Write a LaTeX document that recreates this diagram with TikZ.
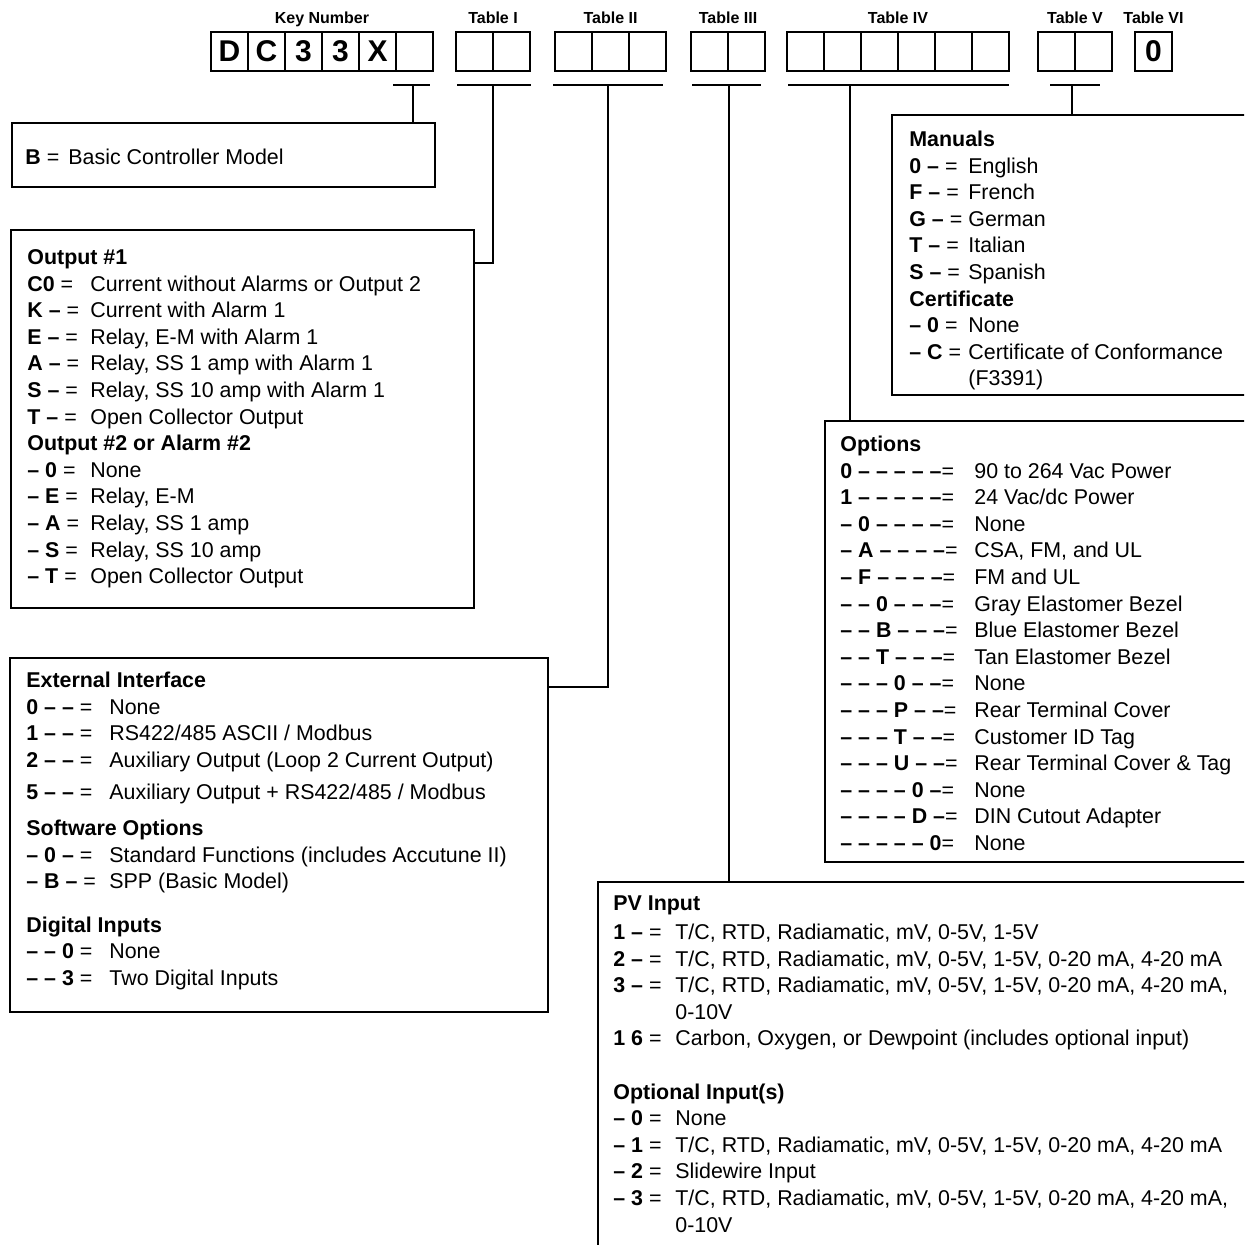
\documentclass[tikz,border=0pt]{standalone}
\usepackage{fontspec}
\setmainfont{Liberation Sans}
\usetikzlibrary{positioning,fit}

\newcommand{\hd}[1]{\multicolumn{2}{@{}l@{}}{\textbf{#1}}}

\begin{document}
\begin{tikzpicture}[
  x=0.5pt, y=-0.5pt,
  font=\fontsize{10.7pt}{13.3pt}\selectfont,
  cell/.style={draw, line width=1pt, minimum width=18.5pt, minimum height=19.5pt, inner sep=0pt, outer sep=0pt, font=\fontsize{15pt}{15pt}\selectfont\bfseries},
  grplabel/.style={anchor=base, inner sep=0pt, font=\fontsize{8pt}{9pt}\selectfont\bfseries},
  panel/.style={draw, line width=1pt, inner sep=0pt, outer sep=0pt},
  paneltext/.style={anchor=base west, inner sep=0pt},
  bar/.style={line width=1pt},
  wire/.style={line width=0.9pt}
]
\useasboundingbox (0,0) rectangle (1244,1245);
\clip (0,0) rectangle (1244,1245);

% model number cells
\foreach \i/\ch in {0/D,1/C,2/3,3/3,4/X,5/{}}
  \node[cell] (key\i) at ({229.5+37*\i},51.5) {\ch};
\foreach \i in {0,1} \node[cell] (tI\i) at ({474.5+37*\i},51.5) {};
\foreach \i in {0,1,2} \node[cell] (tII\i) at ({573.5+37*\i},51.5) {};
\foreach \i in {0,1} \node[cell] (tIII\i) at ({709.5+37*\i},51.5) {};
\foreach \i in {0,...,5} \node[cell] (tIV\i) at ({805.5+37*\i},51.5) {};
\foreach \i in {0,1} \node[cell] (tV\i) at ({1056.5+37*\i},51.5) {};
\node[cell] (tVI0) at (1153.5,51.5) {0};

\node[grplabel] (keylbl) at (key2.east |- 0,24) {Key Number};
\node[grplabel] (tIlbl) at (tI0.east |- 0,24) {Table I};
\node[grplabel] (tIIlbl) at (tII1 |- 0,24) {Table II};
\node[grplabel] (tIIIlbl) at (tIII0.east |- 0,24) {Table III};
\node[grplabel] (tIVlbl) at (tIV2.east |- 0,24) {Table IV};
\node[grplabel] (tVlbl) at (tV0.east |- 0,24) {Table V};
\node[grplabel] (tVIlbl) at (tVI0 |- 0,24) {Table VI};

% bars under the groups
\foreach \nm/\xa/\xb/\xm in {keybar/393/430/413, tIbar/457/531/493, tIIbar/553/663/608,
    tIIIbar/692/761/729, tIVbar/788/1009/850, tVbar/1050/1100/1072} {
  \draw[bar] (\xa,85) -- (\xb,85);
  \coordinate (\nm) at (\xm,85);
}

% selection panels
\node[panel, fit={(12,123) (435,187)}] (basicbox) {};
\node[panel, fit={(11,230) (474,608)}] (outbox) {};
\node[panel, fit={(10,658) (548,1012)}] (extbox) {};
\node[panel, fit={(892,115) (1270,395)}] (manbox) {};
\node[panel, fit={(825,421) (1270,862)}] (optbox) {};
\node[panel, fit={(598,882) (1270,1270)}] (pvbox) {};

\node[paneltext] (basictext) at (25,164.5) {\begin{tabular}[t]{@{}p{21.5pt}@{}l@{}}
\textbf{B} = & Basic Controller Model
\end{tabular}};

\node[paneltext] (outtext) at (27,264.5) {\begin{tabular}[t]{@{}p{31.5pt}@{}l@{}}
\hd{Output \#1}\\
\textbf{C0} = & Current without Alarms or Output 2\\
\textbf{K –} = & Current with Alarm 1\\
\textbf{E –} = & Relay, E-M with Alarm 1\\
\textbf{A –} = & Relay, SS 1 amp with Alarm 1\\
\textbf{S –} = & Relay, SS 10 amp with Alarm 1\\
\textbf{T –} = & Open Collector Output\\
\hd{Output \#2 or Alarm \#2}\\
\textbf{– 0} = & None\\
\textbf{– E} = & Relay, E-M\\
\textbf{– A} = & Relay, SS 1 amp\\
\textbf{– S} = & Relay, SS 10 amp\\
\textbf{– T} = & Open Collector Output
\end{tabular}};

\node[paneltext] (exttext) at (26,687.5) {\begin{tabular}[t]{@{}p{41.5pt}@{}l@{}}
\hd{External Interface}\\
\textbf{0 – –} = & None\\
\textbf{1 – –} = & RS422/485 ASCII / Modbus\\
\textbf{2 – –} = & Auxiliary Output (Loop 2 Current Output)\\[2.8pt]
\textbf{5 – –} = & Auxiliary Output + RS422/485 / Modbus\\[4.7pt]
\hd{Software Options}\\
\textbf{– 0 –} = & Standard Functions (includes Accutune II)\\
\textbf{– B –} = & SPP (Basic Model)\\[8.5pt]
\hd{Digital Inputs}\\
\textbf{– – 0} = & None\\
\textbf{– – 3} = & Two Digital Inputs
\end{tabular}};

\node[paneltext] (mantext) at (909,146.5) {\begin{tabular}[t]{@{}p{29.5pt}@{}l@{}}
\hd{Manuals}\\
\textbf{0 –} = & English\\
\textbf{F –} = & French\\
\textbf{G –} = & German\\
\textbf{T –} = & Italian\\
\textbf{S –} = & Spanish\\
\hd{Certificate}\\
\textbf{– 0} = & None\\
\textbf{– C} = & Certificate of Conformance\\
 & (F3391)
\end{tabular}};

\node[paneltext] (opttext) at (840,451.5) {\begin{tabular}[t]{@{}p{67pt}@{}l@{}}
\hd{Options}\\
\textbf{0 – – – – –}= & 90 to 264 Vac Power\\
\textbf{1 – – – – –}= & 24 Vac/dc Power\\
\textbf{– 0 – – – –}= & None\\
\textbf{– A – – – –}= & CSA, FM, and UL\\
\textbf{– F – – – –}= & FM and UL\\
\textbf{– – 0 – – –}= & Gray Elastomer Bezel\\
\textbf{– – B – – –}= & Blue Elastomer Bezel\\
\textbf{– – T – – –}= & Tan Elastomer Bezel\\
\textbf{– – – 0 – –}= & None\\
\textbf{– – – P – –}= & Rear Terminal Cover\\
\textbf{– – – T – –}= & Customer ID Tag\\
\textbf{– – – U – –}= & Rear Terminal Cover \& Tag\\
\textbf{– – – – 0 –}= & None\\
\textbf{– – – – D –}= & DIN Cutout Adapter\\
\textbf{– – – – – 0}= & None
\end{tabular}};

\node[paneltext] (pvtext) at (613,910.5) {\begin{tabular}[t]{@{}p{31pt}@{}l@{}}
\hd{PV Input}\\[1.2pt]
\textbf{1 –} = & T/C, RTD, Radiamatic, mV, 0-5V, 1-5V\\
\textbf{2 –} = & T/C, RTD, Radiamatic, mV, 0-5V, 1-5V, 0-20 mA, 4-20 mA\\
\textbf{3 –} = & T/C, RTD, Radiamatic, mV, 0-5V, 1-5V, 0-20 mA, 4-20 mA,\\
 & 0-10V\\
\textbf{1 6} = & Carbon, Oxygen, or Dewpoint (includes optional input)\\
 & \\
\hd{Optional Input(s)}\\
\textbf{– 0} = & None\\
\textbf{– 1} = & T/C, RTD, Radiamatic, mV, 0-5V, 1-5V, 0-20 mA, 4-20 mA\\
\textbf{– 2} = & Slidewire Input\\
\textbf{– 3} = & T/C, RTD, Radiamatic, mV, 0-5V, 1-5V, 0-20 mA, 4-20 mA,\\
 & 0-10V
\end{tabular}};

% connectors from the groups to the panels
\draw[wire] (keybar) -- (keybar |- basicbox.north);
\draw[wire] (tIbar) |- (outbox.east |- 0,263);
\draw[wire] (tIIbar) |- (extbox.east |- 0,687);
\draw[wire] (tIIIbar) -- (tIIIbar |- pvbox.north);
\draw[wire] (tIVbar) -- (tIVbar |- optbox.north);
\draw[wire] (tVbar) -- (tVbar |- manbox.north);
\end{tikzpicture}
\end{document}
